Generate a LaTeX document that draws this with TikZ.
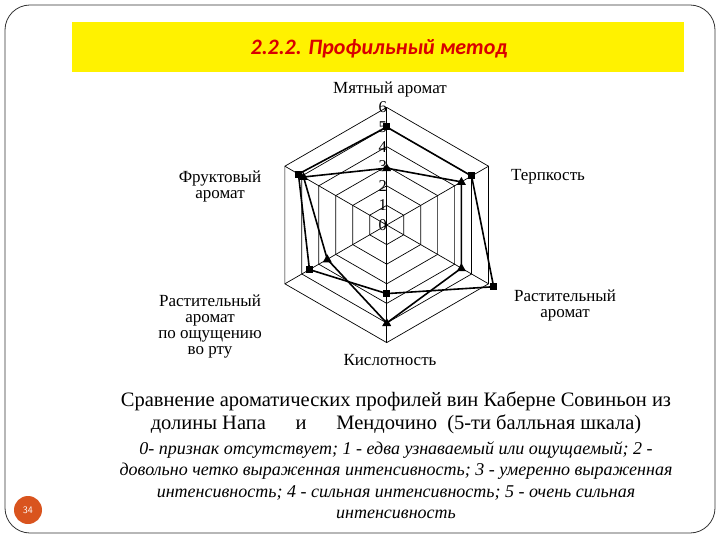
\documentclass[tikz,border=0pt]{standalone}
\usepackage{fontspec}
\setmainfont{Liberation Serif}
\newfontfamily\titlefont{Carlito}
\usetikzlibrary{calc}
\begin{document}
\begin{tikzpicture}[x=1pt,y=-1pt,
  ring/.style={draw=black,line width=0.7pt},
  series/.style={draw=black,line width=1.6pt,line join=miter},
  sq/.style={fill=black,minimum size=7pt,inner sep=0pt},
  axlab/.style={font=\fontsize{17}{17}\selectfont,align=center},
  scl/.style={font=\fontsize{16.5}{16}\selectfont,inner sep=0pt}]
\useasboundingbox (0,0) rectangle (720,540);
\draw[line width=0.8pt,draw=black!80,rounded corners=25pt] (5,5) rectangle (715,533);
\fill[yellow] (72,22) rectangle (684,72);
\node[font=\titlefont\bfseries\itshape\fontsize{22}{24}\selectfont,text=red!85!black] (title) at (379,49) {2.2.2. Профильный метод};
\coordinate (c) at (386.7,225);
\def\u{19.6}
\foreach \k in {1,...,6}{
  \draw[ring] ($(c)+(-90:\k*\u)$) -- ($(c)+(-30:\k*\u)$) -- ($(c)+(30:\k*\u)$) -- ($(c)+(90:\k*\u)$) -- ($(c)+(150:\k*\u)$) -- ($(c)+(210:\k*\u)$) -- cycle;
}
\foreach \a in {90,30,-30,-90,-150,150}{ \draw[ring] (c) -- ($(c)+(\a:6*\u)$); }
\foreach \k in {0,...,6}{ \node[scl] (s\k) at ($(c)+(-4,-\k*\u)$) {\k}; }
% square series
\coordinate (a1) at ($(c)+(-90:5*\u)$);
\coordinate (a2) at ($(c)+(-30:5*\u)$);
\coordinate (a3) at ($(c)+(30:6.3*\u)$);
\coordinate (a4) at ($(c)+(90:3.5*\u)$);
\coordinate (a5) at ($(c)+(150:4.55*\u)$);
\coordinate (a6) at ($(c)+(-150:5.2*\u)$);
\draw[series] (a1)--(a2)--(a3)--(a4)--(a5)--(a6)--cycle;
\foreach \i in {1,...,6}{ \node[sq] at (a\i) {}; }
% triangle series
\coordinate (b1) at ($(c)+(-90:2.9*\u)$);
\coordinate (b2) at ($(c)+(-30:4.4*\u)$);
\coordinate (b3) at ($(c)+(30:4.4*\u)$);
\coordinate (b4) at ($(c)+(90:5*\u)$);
\coordinate (b5) at ($(c)+(150:3.5*\u)$);
\coordinate (b6) at ($(c)+(-150:4.9*\u)$);
\draw[series] (b1)--(b2)--(b3)--(b4)--(b5)--(b6)--cycle;
\foreach \i in {1,...,6}{ \fill (b\i) ++(0,-5) -- ++(4.5,8) -- ++(-9,0) -- cycle; }
\node[axlab] (l1) at (390,89) {Мятный аромат};
\node[axlab] (l2) at (548,177) {Терпкость};
\node[axlab] (l3) at (565,305) {Растительный\\[-1pt]аромат};
\node[axlab] (l4) at (390,360) {Кислотность};
\node[axlab] (l5) at (210,327) {Растительный\\[-1pt]аромат\\[-1pt]по ощущению\\[-1pt]во рту};
\node[axlab] (l6) at (220,186) {Фруктовый\\[-1pt]аромат};
\node[font=\fontsize{20.5}{23}\selectfont,align=center] (cap) at (396,413) {Сравнение ароматических профилей вин Каберне Совиньон из\\долины Напа\hspace{1.2em} и\hspace{1.2em} Мендочино\ \ (5-ти балльная шкала)};
\node[font=\itshape\fontsize{18}{21.5}\selectfont,align=center] (note) at (396,480) {0- признак отсутствует; 1 - едва узнаваемый или ощущаемый; 2 -\\довольно четко выраженная интенсивность; 3 - умеренно выраженная\\интенсивность; 4 - сильная интенсивность; 5 - очень сильная\\интенсивность};
\node[circle,fill={rgb,255:red,217;green,84;blue,30},minimum size=28pt,inner sep=0pt,text=white,font=\sffamily\fontsize{10}{10}\selectfont] (pg) at (28,510) {34};
\end{tikzpicture}
\end{document}
